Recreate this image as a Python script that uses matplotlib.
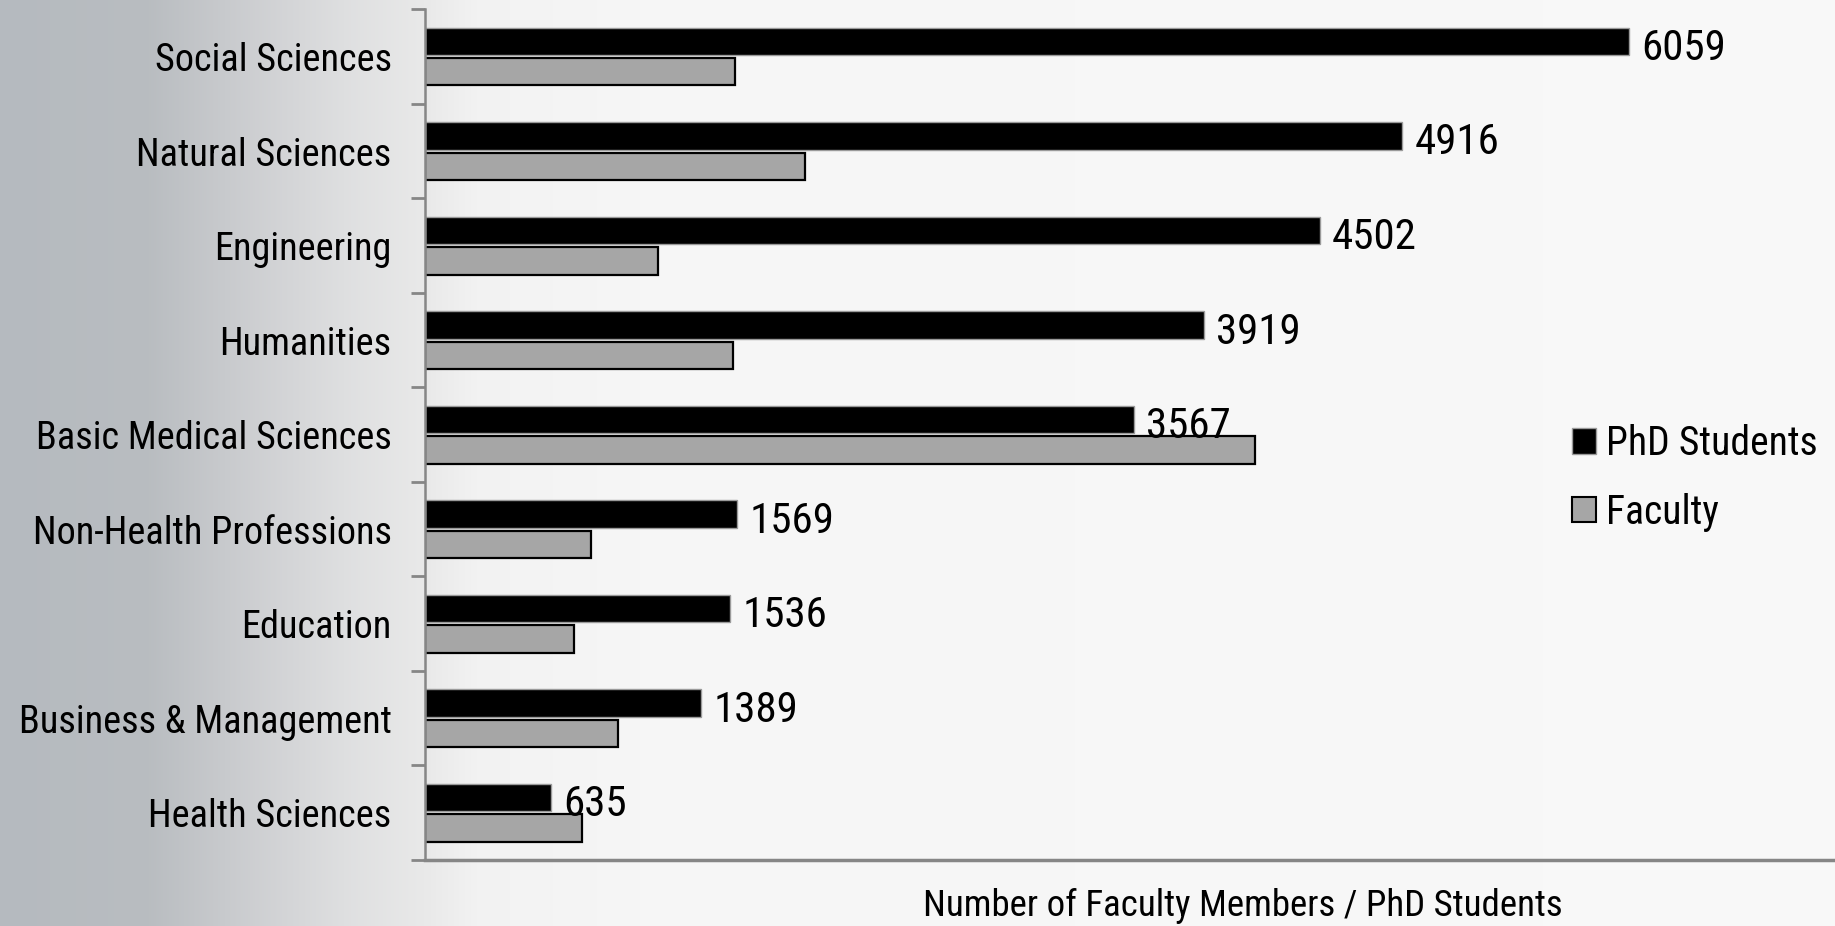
import numpy as np
import matplotlib
matplotlib.use('Agg')
import matplotlib.pyplot as plt
from matplotlib import font_manager
from matplotlib.patches import Patch

# data
categories = ['Social Sciences', 'Natural Sciences', 'Engineering', 'Humanities',
              'Basic Medical Sciences', 'Non-Health Professions', 'Education',
              'Business & Management', 'Health Sciences']
phd_students = [6059, 4916, 4502, 3919, 3567, 1569, 1536, 1389, 635]
faculty = [1560, 1914, 1172, 1549, 4175, 836, 748, 972, 789]

# the reference uses a narrow sans; look for one, otherwise shrink a regular one
narrow = None
for f in font_manager.fontManager.ttflist:
    if f.name in ('Liberation Sans Narrow', 'Arial Narrow', 'Roboto Condensed') and f.weight in (400, 'normal', 'regular'):
        narrow = f.name
        break
if narrow is None:
    for f in font_manager.fontManager.ttflist:
        if f.name == 'DejaVu Sans' and f.stretch == 'condensed' and f.style == 'normal' and f.weight in (400, 'normal', 'book'):
            narrow = 'DejaVu Sans'
            plt.rcParams['font.stretch'] = 'condensed'
            break
if narrow is None:
    plt.rcParams['font.family'] = ['Liberation Sans', 'DejaVu Sans']
    k = 0.84
else:
    plt.rcParams['font.family'] = [narrow, 'DejaVu Sans']
    k = 1.0

W, H = 1835, 926
fig = plt.figure(figsize=(W / 100, H / 100), dpi=100)

# background: grey fade on the left side
bg = fig.add_axes([0, 0, 1, 1], zorder=-10)
xs = np.linspace(0, 1, 800)
stops = [0, 0.08, 0.14, 0.19, 0.232, 0.26, 0.35, 1.0]
rgb = np.stack([np.interp(xs, stops, [0.71, 0.725, 0.81, 0.875, 0.915, 0.95, 0.965, 0.975]),
                np.interp(xs, stops, [0.73, 0.74, 0.815, 0.878, 0.915, 0.95, 0.965, 0.975]),
                np.interp(xs, stops, [0.75, 0.755, 0.825, 0.882, 0.915, 0.95, 0.965, 0.975])], axis=-1)
bg.imshow(np.tile(rgb[None, :, :], (10, 1, 1)), aspect='auto', extent=[0, 1, 0, 1])
bg.set_axis_off()

ax = fig.add_axes([425 / W, 1 - 860 / H, (W - 425) / W, (860 - 9.4) / H])
ax.patch.set_alpha(0)

y = np.arange(len(categories))
h = 0.29
ax.barh(y - 0.16, phd_students, height=h, color='black', edgecolor='#9a9a9a', linewidth=1.0,
        label='PhD Students')
ax.barh(y + 0.16, faculty, height=h, color='#a6a6a6', edgecolor='black', linewidth=1.6,
        label='Faculty')

for i, v in enumerate(phd_students):
    ax.annotate(str(v), (v, i - 0.16), xytext=(9, -5), textcoords='offset points',
                va='center', ha='left', fontsize=31 * k)

ax.set_xlim(0, 7096)
ax.set_ylim(len(categories) - 0.5, -0.5)
ax.set_yticks(y)
ax.set_yticklabels(categories, fontsize=27.5 * k)
ax.set_yticks(np.arange(len(categories) + 1) - 0.5, minor=True)
ax.tick_params(axis='y', which='major', length=0, pad=24)
ax.tick_params(axis='y', which='minor', length=10, width=2, color='#868686')
ax.set_xticks([])

for s in ['top', 'right']:
    ax.spines[s].set_visible(False)
ax.spines['left'].set_color('#868686')
ax.spines['left'].set_linewidth(1.8)
ax.spines['bottom'].set_color('#868686')
ax.spines['bottom'].set_linewidth(2.5)

handles = [Patch(facecolor='black', edgecolor='#9a9a9a', label='PhD Students'),
           Patch(facecolor='#a6a6a6', edgecolor='black', linewidth=1.5, label='Faculty')]
fig.legend(handles=handles, loc='upper left', bbox_to_anchor=(1572 / W, 1 - 424 / H),
           frameon=False, fontsize=28.5 * k, handlelength=0.6, handleheight=0.6,
           handletextpad=0.25, labelspacing=0.75, borderpad=0, borderaxespad=0)

fig.text(1243 / W, 1 - 906 / H, 'Number of Faculty Members / PhD Students',
         ha='center', va='center', fontsize=26.6 * k)

fig.savefig('out.png', dpi=100)
